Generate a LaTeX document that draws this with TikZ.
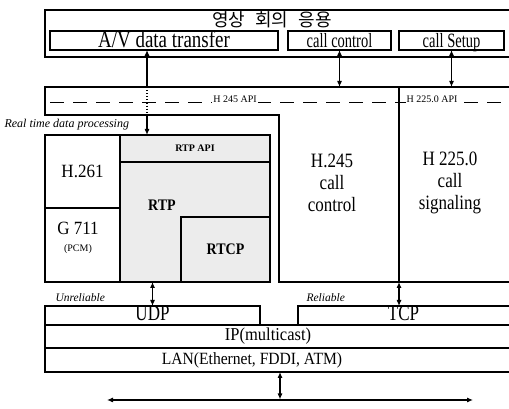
\documentclass[tikz,border=0pt]{standalone}
\usepackage{graphicx}
\usepackage{fontspec}
\setmainfont{Liberation Serif}
\newfontfamily\krfont{Noto Sans CJK KR}
\usetikzlibrary{arrows.meta,positioning,calc}
\newcommand{\tall}[2][1.25]{\scalebox{1}[#1]{#2}}

\begin{document}
\begin{tikzpicture}[
    x=1pt, y=1pt,
    frame/.style={rectangle, inner sep=0pt, outer sep=0pt, line width=1.1pt},
    box/.style={frame, draw},
    big/.style={font=\fontsize{17}{22}\selectfont},
    toprow/.style={box, minimum height=19, text height=16.5pt, text depth=2.5pt},
    apilbl/.style={font=\fontsize{10}{12}\selectfont, fill=white, inner sep=1pt, anchor=south},
    note/.style={font=\itshape\fontsize{11.5}{13}\selectfont, anchor=base west},
    heavy/.style={font=\bfseries\fontsize{14}{16}\selectfont},
    line/.style={line width=1.1pt},
    arrow/.style={{Latex[length=6pt,width=5pt]}-{Latex[length=6pt,width=5pt]}, line width=1.1pt},
    uparrow/.style={{Latex[length=6pt,width=5pt]}-, line width=1.1pt},
    downarrow/.style={-{Latex[length=6pt,width=5pt]}, line width=1.1pt}
]
    \useasboundingbox (0,0) rectangle (509,409);

    % application layer
    \node[frame, minimum width=464, minimum height=47] (app) at (277,375.5) {};
    \draw[line] (app.north east) -- (app.north west) -- (app.south west) -- (app.south east);
    \node[font=\krfont\fontsize{18}{20}\selectfont] (title) at (272,389) {영상\hspace{10pt}회의\hspace{10pt}응용};
    \node[toprow, font=\fontsize{19}{22}\selectfont, minimum width=228] (av) at (164,368.5) {\tall[1.25]{A/V data transfer}};
    \node[toprow, font=\fontsize{14.5}{18}\selectfont, minimum width=103] (cc) at (339.5,368.5) {\tall[1.4]{call control}};
    \node[toprow, font=\fontsize{14.5}{18}\selectfont, minimum width=105] (cs) at (451.5,368.5) {\tall[1.4]{call Setup}};

    % API band and control regions
    \node[frame, minimum width=464, minimum height=28] (api) at (277,308) {};
    \node[frame, minimum width=120, minimum height=167] (h245) at (339,210.5) {};
    \node[frame, minimum width=110, minimum height=167] (h225) at (454,210.5) {};
    \draw[line] (api.north east) -- (api.north west) -- (api.south west) -- (h245.north west)
        -- (h245.south west) -- (h225.south east);
    \draw[line] (api.north -| h225.north west) -- (h225.south west);
    \draw[line width=0.8pt, dash pattern=on 14pt off 9pt] (50,307) -- (509,307);
    \node[apilbl] (api245) at (235,305) {H 245 API};
    \node[apilbl] (api225) at (432,305) {H 225.0 API};
    \node[big, align=center] (h245txt) at (332,226) {\tall[1.2]{H.245}\\\tall[1.2]{call}\\\tall[1.2]{control}};
    \node[big, align=center] (h225txt) at (450,226) {\tall[1.2]{H 225.0}\\\tall[1.2]{call}\\\tall[1.2]{signaling}};

    % real time data processing
    \node[note, font=\itshape\fontsize{12}{14}\selectfont] (rtdp) at (1,281) {Real time data processing};
    \node[box, big, minimum width=75, minimum height=73] (h261) at (82.5,237.5) {\tall[1.1]{H.261}};
    \node[box, minimum width=75, minimum height=74, below=0pt of h261] (g711) {};
    \node[big, align=center] (g711txt) at (78,171) {\tall[1.1]{G 711}\\[-5pt]{\fontsize{10}{12}\selectfont (PCM)}};
    \node[box, fill=gray!15, minimum width=150, minimum height=147, right=0pt of h261.north east, anchor=north west] (rtp) {};
    \node[box, font=\bfseries\fontsize{10}{12}\selectfont, minimum width=150, minimum height=27, anchor=north] (rtpapi) at (rtp.north) {RTP API};
    \node[box, heavy, minimum width=89, minimum height=65, anchor=south east] (rtcp) at (rtp.south east) {\tall[1.15]{RTCP}};
    \node[heavy] (rtplbl) at (162,204) {\tall[1.15]{RTP}};

    % arrows from the application
    \coordinate (avx) at (147,0);
    \draw[uparrow] (av.south -| avx) -- (api.north -| avx);
    \draw[line, dotted] (api.north -| avx) -- (api.south -| avx);
    \draw[downarrow] (api.south -| avx) -- (rtpapi.north -| avx);
    \draw[arrow] (cc.south) -- (api.north -| cc.south);
    \draw[arrow] (cs.south) -- (api.north -| cs.south);

    % transport and network
    \node[box, big, minimum width=215, minimum height=19, text height=14pt, text depth=3pt] (udp) at (152.5,93.5) {\tall[1.3]{UDP}};
    \node[frame, big, minimum width=211, minimum height=19, text height=14pt, text depth=3pt] (tcp) at (403.5,93.5) {\tall[1.3]{TCP}};
    \node[frame, minimum width=464, minimum height=23] (iprow) at (277,72.5) {};
    \node[frame, minimum width=464, minimum height=24] (lanrow) at (277,49) {};
    \node[font=\fontsize{16.5}{20}\selectfont] (ip) at (268,72.5) {\tall[1.1]{IP(multicast)}};
    \node[font=\fontsize{15.6}{20}\selectfont] (lan) at (252,49) {\tall[1.1]{LAN(Ethernet, FDDI, ATM)}};
    \draw[line] (tcp.north east) -- (tcp.north west) -- (tcp.south west);
    \draw[line] (iprow.north west) -- (iprow.north east);
    \draw[line] (lanrow.north west) -- (lanrow.north east);
    \draw[line width=1.6pt] (udp.north west) -- (lanrow.south west) -- (lanrow.south east);
    \node[note] (unrel) at (52,107) {Unreliable};
    \node[note] (rel) at (303,107) {Reliable};
    \draw[arrow] (udp.north) -- (udp.north |- rtp.south);
    \draw[arrow] (tcp.north -| h225.south west) -- (h225.south west);

    % network bus
    \coordinate (busL) at (107,9);
    \coordinate (busR) at (473,9);
    \coordinate (bus) at (280,9.5);
    \draw[arrow] (busL) -- (busR);
    \draw[arrow] (lanrow.south -| bus) -- (bus);
\end{tikzpicture}
\end{document}
